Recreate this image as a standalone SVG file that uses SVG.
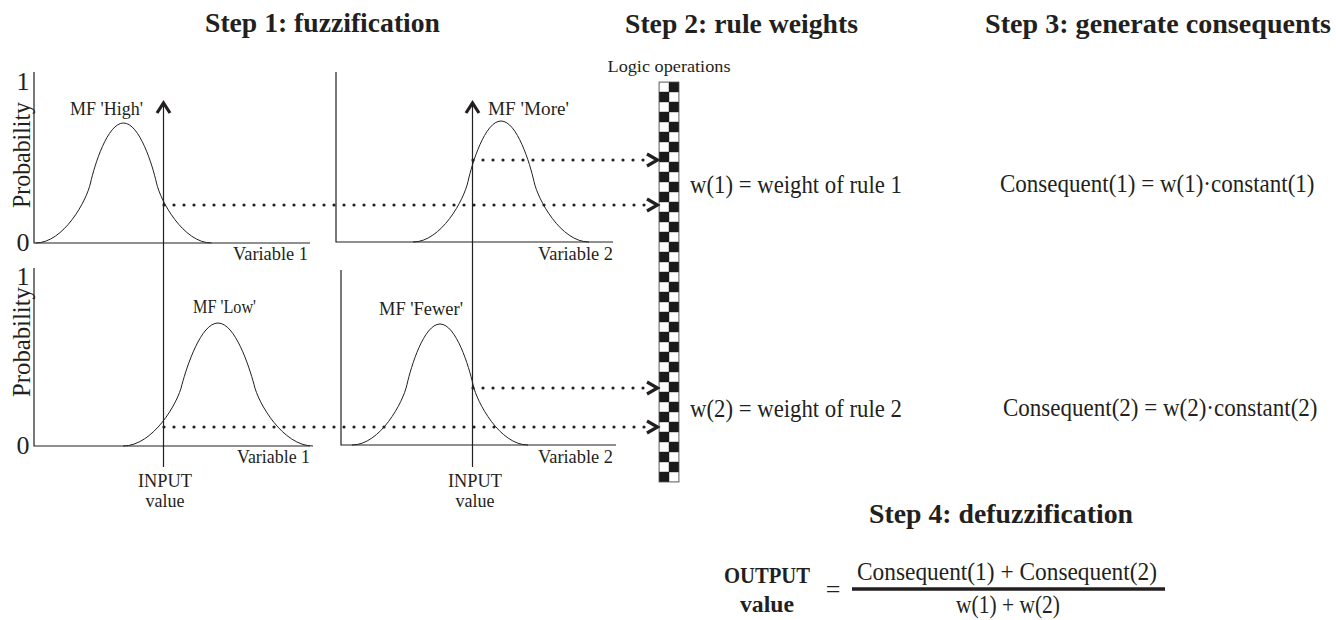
<svg xmlns="http://www.w3.org/2000/svg" width="1336" height="620" viewBox="0 0 1336 620">
  <style>
    text { font-family: "Liberation Serif", "Times New Roman", serif; fill: #231f20; }
    .title { font-size: 28px; font-weight: bold; }
    .body { font-size: 26px; }
    .small { font-size: 18px; }
    .tick { font-size: 26px; text-anchor: middle; }
    .axis { fill: none; stroke: #231f20; stroke-width: 1.2; }
    .mf { fill: none; stroke: #231f20; stroke-width: 1; }
    .dots { fill: none; stroke: #231f20; stroke-width: 3.2; stroke-dasharray: 0 10; stroke-linecap: round; }
    .chev { fill: none; stroke: #231f20; stroke-width: 3.2; stroke-linejoin: miter; }
  </style>
  <defs>
    <pattern id="checker" patternUnits="userSpaceOnUse" x="659" y="82" width="20" height="20">
      <rect x="0" y="0" width="20" height="20" fill="#ffffff"/>
      <rect x="10" y="0" width="10" height="10" fill="#1a1a1a"/>
      <rect x="0" y="10" width="10" height="10" fill="#1a1a1a"/>
      <rect x="0.25" y="0.25" width="9.5" height="9.5" fill="none" stroke="#9a9a9a" stroke-width="0.5"/>
      <rect x="10.25" y="10.25" width="9.5" height="9.5" fill="none" stroke="#9a9a9a" stroke-width="0.5"/>
    </pattern>
  </defs>

  <!-- headings -->
  <text class="title" x="205" y="32" textLength="235" lengthAdjust="spacingAndGlyphs">Step 1: fuzzification</text>
  <text class="title" x="625" y="33" textLength="233" lengthAdjust="spacingAndGlyphs">Step 2: rule weights</text>
  <text class="title" x="985" y="33" textLength="346" lengthAdjust="spacingAndGlyphs">Step 3: generate consequents</text>

  <!-- panel: Variable 1, MF 'High' -->
  <g id="panel-high">
    <path class="axis" d="M34,72 V243 H310"/>
    <text class="tick" x="23" y="90">1</text>
    <text class="tick" x="23" y="251">0</text>
    <text class="body" transform="translate(30,155) rotate(-90)" text-anchor="middle" textLength="106" lengthAdjust="spacingAndGlyphs">Probability</text>
    <path class="mf" d="M35.5,243 C63.5,243 86.5,201 90.5,183 C94.5,165.2 107.5,123 123.5,123 C139.5,123 152.5,165.2 156.5,183 C160.5,201 183.5,243 211.5,243"/>
    <text class="small" x="70" y="115" textLength="73" lengthAdjust="spacingAndGlyphs">MF 'High'</text>
    <text class="small" x="233" y="260" textLength="75" lengthAdjust="spacingAndGlyphs">Variable 1</text>
  </g>

  <!-- panel: Variable 2, MF 'More' -->
  <g id="panel-more">
    <path class="axis" d="M336,72 V242 H613"/>
    <path class="mf" d="M413,242 C441,242 464,200 468,181.5 C472,163.6 485,121 501,121 C517,121 530,163.6 534,181.5 C538,200 561,242 589,242"/>
    <text class="small" x="488" y="115" textLength="81" lengthAdjust="spacingAndGlyphs">MF 'More'</text>
    <text class="small" x="538" y="260" textLength="75" lengthAdjust="spacingAndGlyphs">Variable 2</text>
  </g>

  <!-- panel: Variable 1, MF 'Low' -->
  <g id="panel-low">
    <path class="axis" d="M34,268 V446 H310"/>
    <text class="tick" x="23" y="285">1</text>
    <text class="tick" x="23" y="454">0</text>
    <text class="body" transform="translate(30,342) rotate(-90)" text-anchor="middle" textLength="110" lengthAdjust="spacingAndGlyphs">Probability</text>
    <path class="mf" d="M123,446 C153,446 178,403 182,384.5 C187,366 201,323 218,323 C235,323 249,366 254,384.5 C258,403 283,446 313,446"/>
    <text class="small" x="193" y="313" textLength="63" lengthAdjust="spacingAndGlyphs">MF 'Low'</text>
    <text class="small" x="237" y="463" textLength="73" lengthAdjust="spacingAndGlyphs">Variable 1</text>
  </g>

  <!-- panel: Variable 2, MF 'Fewer' -->
  <g id="panel-fewer">
    <path class="axis" d="M341,270 V445 H616"/>
    <path class="mf" d="M352,445 C380,445 403,402.7 407,384.5 C411,366.6 424,324 440,324 C456,324 469,366.6 473,384.5 C477,402.7 500,445 528,445"/>
    <text class="small" x="379" y="315" textLength="84" lengthAdjust="spacingAndGlyphs">MF 'Fewer'</text>
    <text class="small" x="538" y="463" textLength="75" lengthAdjust="spacingAndGlyphs">Variable 2</text>
  </g>

  <!-- crisp inputs -->
  <g id="input-1">
    <line class="axis" x1="163.5" y1="103" x2="163.5" y2="467"/>
    <polyline class="chev" points="157,113 163.5,103 170,113"/>
    <text class="small" x="165" y="487" text-anchor="middle" textLength="54" lengthAdjust="spacingAndGlyphs">INPUT</text>
    <text class="small" x="165" y="507" text-anchor="middle">value</text>
  </g>
  <g id="input-2">
    <line class="axis" x1="472.5" y1="103" x2="472.5" y2="467"/>
    <polyline class="chev" points="466,113 472.5,103 479,113"/>
    <text class="small" x="475" y="487" text-anchor="middle" textLength="54" lengthAdjust="spacingAndGlyphs">INPUT</text>
    <text class="small" x="475" y="507" text-anchor="middle">value</text>
  </g>

  <!-- logic operator column -->
  <g id="logic">
    <text x="669" y="72" text-anchor="middle" font-size="16" textLength="123" lengthAdjust="spacingAndGlyphs">Logic operations</text>
    <rect x="659" y="82" width="20" height="400" fill="url(#checker)" stroke="#555555" stroke-width="0.8"/>
  </g>

  <!-- membership degrees carried to the logic column -->
  <g id="connectors">
    <path class="dots" d="M473,160 H650"/>
    <polyline class="chev" points="647,154 657.5,160 647,166"/>
    <path class="dots" d="M164,205 H650"/>
    <polyline class="chev" points="647,199 657.5,205 647,211"/>
    <path class="dots" d="M473,388 H650"/>
    <polyline class="chev" points="647,382 657.5,388 647,394"/>
    <path class="dots" d="M164,427 H650"/>
    <polyline class="chev" points="647,421 657.5,427 647,433"/>
  </g>

  <!-- rule weights and consequents -->
  <g id="rule-1">
    <text class="body" x="690" y="193" textLength="212" lengthAdjust="spacingAndGlyphs">w(1) = weight of rule 1</text>
    <text class="body" transform="translate(1000,192) scale(0.885,1)">Consequent(1) = w(1)·constant(1)</text>
  </g>
  <g id="rule-2">
    <text class="body" x="690" y="417" textLength="212" lengthAdjust="spacingAndGlyphs">w(2) = weight of rule 2</text>
    <text class="body" transform="translate(1003,416) scale(0.885,1)">Consequent(2) = w(2)·constant(2)</text>
  </g>

  <!-- defuzzification -->
  <g id="defuzz">
    <text class="title" x="869" y="523" textLength="264" lengthAdjust="spacingAndGlyphs">Step 4: defuzzification</text>
    <text x="810" y="583" text-anchor="end" font-size="24" font-weight="bold" textLength="86" lengthAdjust="spacingAndGlyphs">OUTPUT</text>
    <text x="767" y="612" text-anchor="middle" font-size="24" font-weight="bold" textLength="54" lengthAdjust="spacingAndGlyphs">value</text>
    <text class="body" x="833" y="598" text-anchor="middle">=</text>
    <line x1="852" y1="589" x2="1165" y2="589" stroke="#231f20" stroke-width="3.5"/>
    <text class="body" x="857" y="580" textLength="300" lengthAdjust="spacingAndGlyphs">Consequent(1) + Consequent(2)</text>
    <text class="body" x="1008" y="613" text-anchor="middle" textLength="104" lengthAdjust="spacingAndGlyphs">w(1) + w(2)</text>
  </g>
</svg>
